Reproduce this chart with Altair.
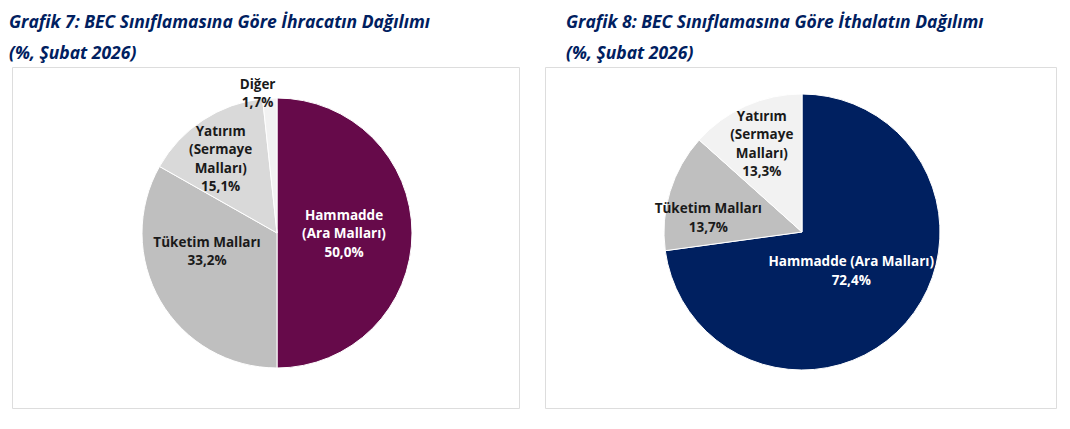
import altair as alt
import pandas as pd

# Grafik 7: ihracat
exp_categories = ["Hammadde (Ara Malları)", "Tüketim Malları", "Yatırım (Sermaye Malları)", "Diğer"]
exp_labels = ["Hammadde\n(Ara Malları)", "Tüketim Malları", "Yatırım\n(Sermaye\nMalları)", "Diğer"]
exp_values = [50.0, 33.2, 15.1, 1.7]
exp_colors = ["#660a4a", "#bfbfbf", "#d9d9d9", "#f2f2f2"]

# Grafik 8: ithalat
imp_categories = ["Hammadde (Ara Malları)", "Tüketim Malları", "Yatırım (Sermaye Malları)"]
imp_labels = ["Hammadde (Ara Malları)", "Tüketim Malları", "Yatırım\n(Sermaye\nMalları)"]
imp_values = [72.4, 13.7, 13.3]
imp_colors = ["#002060", "#bfbfbf", "#f2f2f2"]

TITLE_COLOR = "#002060"
FONT = "Open Sans"
LINE_H = 18.5


def frame(categories, labels, values):
    df = pd.DataFrame({"kategori": categories, "etiket": labels, "deger": values})
    df["sira"] = range(len(df))
    df["metin"] = df["etiket"] + "\n" + df["deger"].map(lambda v: f"{v:.1f}".replace(".", ",") + "%")
    return df


def pie(df, colors, title, center, r, label_pos, width, height, title_dx):
    base = alt.Chart(df)
    arc = base.mark_arc(outerRadius=r, stroke="white", strokeWidth=1).encode(
        theta=alt.Theta("deger:Q", stack=True),
        order=alt.Order("sira:Q"),
        color=alt.Color("kategori:N", scale=alt.Scale(domain=list(df["kategori"]), range=colors), legend=None),
        x=alt.value(center[0]),
        y=alt.value(center[1]),
    )
    layers = [arc]
    for cat, (rad, dx, dy, col) in label_pos.items():
        # vega puts the first line on the anchor, so lift the block to centre it
        n_lines = df.loc[df["kategori"] == cat, "metin"].iloc[0].count("\n") + 1
        lift = (n_lines - 1) * LINE_H / 2
        txt = base.transform_joinaggregate(
            toplam="sum(deger)"
        ).transform_window(
            kum="sum(deger)", sort=[alt.SortField("sira")]
        ).transform_calculate(
            orta="(datum.kum - datum.deger / 2) / datum.toplam * 2 * PI"
        ).transform_filter(
            alt.datum.kategori == cat
        ).mark_text(
            radius=rad, dx=dx, dy=dy - lift, font=FONT, fontWeight="bold", fontSize=13.5,
            lineBreak="\n", lineHeight=LINE_H, align="center", baseline="middle", color=col
        ).encode(
            theta=alt.Theta("orta:Q", scale=None, stack=False),
            text="metin:N",
            x=alt.value(center[0]),
            y=alt.value(center[1]),
        )
        layers.append(txt)
    return alt.layer(*layers).properties(
        width=width, height=height,
        title=alt.TitleParams(
            text=title, anchor="start", font=FONT, fontStyle="italic", fontWeight="bold",
            fontSize=17.5, color=TITLE_COLOR, lineHeight=31, dx=title_dx, offset=5
        ),
    )


left = pie(
    frame(exp_categories, exp_labels, exp_values), exp_colors,
    ["Grafik 7: BEC Sınıflamasına Göre İhracatın Dağılımı", "(%, Şubat 2026)"],
    (265, 166), 135,
    {
        "Hammadde (Ara Malları)": (67, 0, 1, "white"),
        "Tüketim Malları": (81, 0, -22, "#1a1a1a"),
        "Yatırım (Sermaye Malları)": (88, -8, 0, "#1a1a1a"),
        "Diğer": (139, -12, 0, "#1a1a1a"),
    },
    507, 341, -3,
)

right = pie(
    frame(imp_categories, imp_labels, imp_values), imp_colors,
    ["Grafik 8: BEC Sınıflamasına Göre İthalatın Dağılımı", "(%, Şubat 2026)"],
    (257, 165), 138,
    {
        "Hammadde (Ara Malları)": (60, 4, 0, "white"),
        "Tüketim Malları": (98, 0, 15, "#1a1a1a"),
        "Yatırım (Sermaye Malları)": (96, -1, 0, "#1a1a1a"),
    },
    511, 341, 21,
)

chart = alt.hconcat(left, right, spacing=24).resolve_scale(
    color="independent"
).properties(
    padding={"left": 0, "top": 5, "right": 0, "bottom": 0}
).configure_view(
    stroke="#d9d9d9", strokeWidth=2
).configure(background="white")

chart.save("out.html", embed_options={"renderer": "svg", "actions": False})
